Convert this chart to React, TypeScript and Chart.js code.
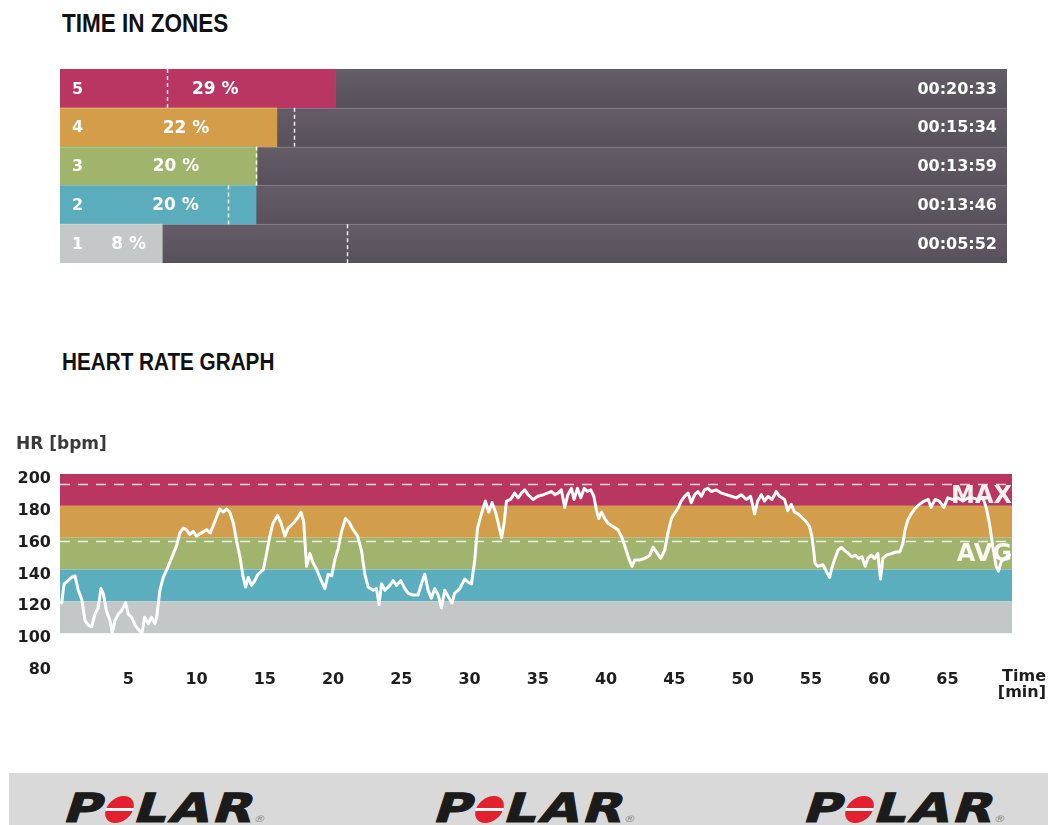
import React, { useEffect, useRef } from "react";
import { Chart, registerables } from "chart.js";

Chart.register(...registerables);

// ---------- Time in zones ----------
const zoneNumbers = ["5", "4", "3", "2", "1"];
const zonePercentLabels = ["29 %", "22 %", "20 %", "20 %", "8 %"];
const zoneTimes = ["00:20:33", "00:15:34", "00:13:59", "00:13:46", "00:05:52"];
const zoneBarShare = [29.1, 22.9, 20.8, 20.7, 10.8];
const zoneMarkerShare = [11.3, 24.7, 20.7, 17.7, 30.3];
const zoneColors = ["#b93562", "#d39d4a", "#a0b46c", "#5badbd", "#c4c8c9"];

// ---------- Heart rate graph ----------
const bandLow = [180, 160, 140, 120, 100];
const bandHigh = [200, 180, 160, 140, 120];
const maxHr = 194;
const avgHr = 158;
const totalMinutes = 69.73;
const hrTime = [
  0.12, 0.3, 0.6, 0.85, 1.1, 1.34, 1.6, 1.83, 2.07, 2.32, 2.56, 2.8, 3.0, 3.17, 3.4, 3.66, 3.83, 4.03, 4.27, 4.5,
  4.8, 5.0, 5.25, 5.5, 5.78, 6.0, 6.2, 6.47, 6.7, 6.95, 7.08, 7.32, 7.56, 7.93, 8.3, 8.54, 8.78, 9.03, 9.27, 9.5,
  9.76, 10.0, 10.37, 10.74, 11.0, 11.2, 11.47, 11.7, 11.95, 12.2, 12.44, 12.7, 12.93, 13.18, 13.42, 13.6, 13.78,
  14.03, 14.27, 14.5, 14.9, 15.13, 15.37, 15.6, 15.94, 16.2, 16.47, 16.7, 17.08, 17.45, 17.65, 17.85, 18.06, 18.3,
  18.55, 18.8, 19.03, 19.4, 19.64, 19.9, 20.13, 20.37, 20.6, 20.9, 21.15, 21.47, 21.8, 22.08, 22.33, 22.57, 22.94,
  23.18, 23.37, 23.55, 23.8, 24.16, 24.4, 24.65, 24.96, 25.26, 25.5, 25.86, 26.23, 26.47, 26.72, 26.96, 27.2, 27.45,
  27.7, 27.94, 28.18, 28.43, 28.72, 28.9, 29.28, 29.65, 29.9, 30.14, 30.38, 30.58, 30.87, 31.16, 31.4, 31.65, 31.9,
  32.1, 32.34, 32.53, 32.7, 33.0, 33.3, 33.55, 33.8, 34.04, 34.28, 34.65, 35.0, 35.4, 35.7, 36.0, 36.24, 36.48,
  36.72, 36.97, 37.2, 37.46, 37.65, 37.9, 38.14, 38.4, 38.63, 38.87, 39.1, 39.3, 39.46, 39.66, 39.9, 40.14, 40.5,
  40.87, 41.16, 41.4, 41.66, 41.9, 42.1, 42.46, 42.83, 43.2, 43.43, 43.68, 44.0, 44.29, 44.53, 44.78, 45.0, 45.3,
  45.5, 45.75, 46.0, 46.24, 46.49, 46.73, 46.98, 47.2, 47.46, 47.7, 48.07, 48.44, 48.8, 49.17, 49.54, 49.9, 50.27,
  50.58, 50.88, 51.1, 51.37, 51.6, 51.85, 52.15, 52.46, 52.7, 53.07, 53.3, 53.56, 53.8, 54.05, 54.3, 54.66, 54.9,
  55.07, 55.2, 55.3, 55.5, 55.88, 56.12, 56.37, 56.54, 56.73, 56.98, 57.22, 57.47, 57.76, 58.0, 58.25, 58.5, 58.73,
  58.98, 59.17, 59.42, 59.66, 59.9, 60.1, 60.27, 60.52, 60.9, 61.2, 61.5, 61.73, 61.9, 62.1, 62.35, 62.6, 62.96,
  63.3, 63.6, 63.8, 64.1, 64.4, 64.74, 65.03, 65.4, 65.76, 66.13, 66.5, 66.85, 67.22, 67.6, 67.84, 68.08, 68.33,
  68.57, 68.74, 68.94, 69.2, 69.55,
];
const hrBpm = [
  119, 131, 133, 135, 136, 127, 121, 108, 105, 104, 112, 116, 128, 125, 114, 108, 100, 108, 112, 114,
  119, 112, 110, 105, 102, 100, 110, 106, 110, 106, 110, 127, 135, 142, 150, 155, 163, 166, 165, 162,
  164, 161, 163, 165, 163, 167, 173, 178, 176, 178, 176, 169, 158, 148, 135, 129, 135,
  130, 133, 137, 140, 150, 161, 169, 174, 169, 161, 166, 169, 173, 176, 170, 142, 150,
  144, 140, 135, 128, 137, 136, 146, 153, 163, 172, 170, 165, 161, 152, 137, 129, 127,
  128, 118, 131, 127, 130, 133, 130, 133, 128, 125, 124, 124, 131, 137, 127, 122, 128,
  124, 116, 127, 123, 119, 125, 128, 134, 132, 131, 146, 166, 175, 183, 176, 182, 176,
  169, 160, 169, 183, 184, 188, 185, 188, 190, 187, 184, 186, 187, 188, 189, 187, 188,
  190, 179, 187, 191, 184, 191, 185, 191, 189, 190, 186, 177, 172, 176, 172, 169, 167,
  165, 160, 154, 147, 142, 146, 146, 147, 149, 154, 151, 147, 152, 163, 172, 175, 179,
  183, 186, 188, 182, 187, 189, 186, 190, 191, 189, 190, 188, 187, 186, 185, 187, 184,
  186, 175, 183, 187, 183, 186, 184, 189, 186, 184, 177, 181, 176, 175, 173, 170, 167,
  161, 152, 144, 142, 143, 139, 135, 141, 146, 152, 154, 152, 150, 148, 149, 147, 148,
  142, 147, 149, 147, 150, 134, 147, 149, 150, 151, 151, 156, 165, 171, 175, 178, 181,
  183, 184, 179, 184, 183, 179, 185, 184, 185, 183, 185, 185, 184, 185, 179, 169, 154,
  142, 139, 145, 147, 149,
];
const bandColors = ["#b8365f", "#d29e4b", "#a0b46d", "#5aaebd", "#c3c7c8"];

const FONT = "'DejaVu Sans', 'Liberation Sans', sans-serif";

function ZonesChart() {
  const ref = useRef<HTMLCanvasElement | null>(null);
  useEffect(() => {
    if (!ref.current) return;
    const labelsPlugin = {
      id: "zoneLabels",
      afterDatasetsDraw(chart: any) {
        const ctx = chart.ctx as CanvasRenderingContext2D;
        const xs = chart.scales.x;
        const ys = chart.scales.y;
        const area = chart.chartArea;
        const rowH = (area.bottom - area.top) / zoneNumbers.length;
        ctx.save();
        zoneNumbers.forEach((num, i) => {
          const cy = ys.getPixelForValue(i);
          const top = cy - rowH / 2;
          if (i > 0) {
            ctx.fillStyle = "rgba(255,255,255,0.18)";
            ctx.fillRect(area.left, Math.round(top), area.right - area.left, 1);
          }
          const mx = Math.round(xs.getPixelForValue(zoneMarkerShare[i])) + 0.5;
          ctx.strokeStyle = "rgba(255,255,255,0.9)";
          ctx.lineWidth = 1.5;
          ctx.setLineDash([4, 3]);
          ctx.beginPath();
          ctx.moveTo(mx, top);
          ctx.lineTo(mx, top + rowH);
          ctx.stroke();
          ctx.setLineDash([]);
          ctx.fillStyle = "#ffffff";
          ctx.textBaseline = "middle";
          ctx.font = `bold 16px ${FONT}`;
          ctx.textAlign = "left";
          ctx.fillText(num, area.left + 12, cy + 1);
          const end = xs.getPixelForValue(zoneBarShare[i]);
          ctx.font = `bold 17px ${FONT}`;
          ctx.textAlign = "center";
          ctx.fillText(zonePercentLabels[i], (area.left + 35 + end) / 2, cy + 1);
          ctx.font = `bold 16px ${FONT}`;
          ctx.textAlign = "right";
          ctx.fillText(zoneTimes[i], area.right - 10, cy + 1);
        });
        ctx.restore();
      },
    };
    const chart = new Chart(ref.current, {
      type: "bar",
      data: {
        labels: zoneNumbers,
        datasets: [
          {
            data: zoneBarShare,
            backgroundColor: zoneColors,
            borderWidth: 0,
            barPercentage: 1,
            categoryPercentage: 1,
          },
          {
            data: zoneBarShare.map((v) => 100 - v),
            backgroundColor: (c: any) => {
              const area = c.chart.chartArea;
              if (!area) return "#5d5661";
              const rowH = (area.bottom - area.top) / zoneNumbers.length;
              const top = area.top + rowH * c.dataIndex;
              const g = c.chart.ctx.createLinearGradient(0, top, 0, top + rowH);
              g.addColorStop(0, "#645d68");
              g.addColorStop(1, "#58515c");
              return g;
            },
            borderWidth: 0,
            barPercentage: 1,
            categoryPercentage: 1,
          },
        ],
      },
      options: {
        indexAxis: "y",
        animation: false,
        responsive: false,
        maintainAspectRatio: false,
        layout: { padding: 0 },
        plugins: { legend: { display: false }, tooltip: { enabled: false } },
        scales: {
          x: { display: false, stacked: true, min: 0, max: 100 },
          y: { display: false, stacked: true },
        },
      },
      plugins: [labelsPlugin],
    } as any);
    return () => chart.destroy();
  }, []);
  return (
    <canvas
      ref={ref}
      width={947}
      height={194}
      style={{ position: "absolute", left: 60, top: 69, width: 947, height: 194 }}
    />
  );
}

function HeartRateChart() {
  const ref = useRef<HTMLCanvasElement | null>(null);
  useEffect(() => {
    if (!ref.current) return;
    const bandsPlugin = {
      id: "hrBands",
      beforeDatasetsDraw(chart: any) {
        const ctx = chart.ctx as CanvasRenderingContext2D;
        const ys = chart.scales.y;
        const area = chart.chartArea;
        ctx.save();
        bandLow.forEach((lo, i) => {
          const yTop = ys.getPixelForValue(bandHigh[i]);
          const yBot = ys.getPixelForValue(lo);
          ctx.fillStyle = bandColors[i];
          ctx.fillRect(area.left, yTop, area.right - area.left, yBot - yTop);
        });
        ctx.strokeStyle = "rgba(255,255,255,0.8)";
        ctx.lineWidth = 1.5;
        ctx.setLineDash([10, 8]);
        [maxHr, avgHr].forEach((v) => {
          const y = Math.round(ys.getPixelForValue(v)) + 0.5;
          ctx.beginPath();
          ctx.moveTo(area.left, y);
          ctx.lineTo(area.right, y);
          ctx.stroke();
        });
        ctx.restore();
      },
      afterDatasetsDraw(chart: any) {
        const ctx = chart.ctx as CanvasRenderingContext2D;
        const ys = chart.scales.y;
        const area = chart.chartArea;
        ctx.save();
        ctx.fillStyle = "rgba(255,255,255,0.92)";
        ctx.font = `bold 24px ${FONT}`;
        ctx.textAlign = "right";
        ctx.textBaseline = "middle";
        ctx.fillText("MAX", area.right, ys.getPixelForValue(maxHr) + 13);
        ctx.fillText("AVG", area.right, ys.getPixelForValue(avgHr) + 14);
        ctx.fillStyle = "#3a3a3a";
        ctx.font = `bold 17px ${FONT}`;
        ctx.textAlign = "left";
        ctx.fillText("HR [bpm]", 16, 25);
        ctx.fillStyle = "#1e1e1e";
        ctx.font = `bold 16px ${FONT}`;
        ctx.textAlign = "right";
        ctx.fillText("Time", 1046, area.bottom + 12);
        ctx.fillText("[min]", 1046, area.bottom + 28);
        ctx.restore();
      },
    };
    const chart = new Chart(ref.current, {
      type: "line",
      data: {
        datasets: [
          {
            data: hrTime.map((t, i) => ({ x: t, y: hrBpm[i] })),
            borderColor: "#ffffff",
            borderWidth: 3,
            borderJoinStyle: "round",
            borderCapStyle: "round",
            pointRadius: 0,
            tension: 0,
            fill: false,
          },
        ],
      },
      options: {
        animation: false,
        responsive: false,
        maintainAspectRatio: false,
        layout: { padding: { top: 54, right: 36, left: 0, bottom: 0 } },
        plugins: { legend: { display: false }, tooltip: { enabled: false } },
        scales: {
          x: {
            type: "linear",
            min: 0,
            max: totalMinutes,
            grid: { display: false, drawTicks: false },
            border: { display: false },
            afterFit: (s: any) => {
              s.height = 55;
            },
            ticks: {
              stepSize: 5,
              includeBounds: false,
              autoSkip: false,
              maxRotation: 0,
              padding: 5,
              color: "#1e1e1e",
              font: { family: FONT, weight: "bold", size: 16 },
              callback: (v: any) => (v === 0 ? "" : String(v)),
            },
          },
          y: {
            min: 80,
            max: 200,
            grid: { display: false, drawTicks: false },
            border: { display: false },
            afterFit: (s: any) => {
              s.width = 60;
            },
            ticks: {
              stepSize: 20,
              padding: 9,
              labelOffset: 5,
              color: "#1e1e1e",
              font: { family: FONT, weight: "bold", size: 16 },
            },
          },
        },
      },
      plugins: [bandsPlugin],
    } as any);
    return () => chart.destroy();
  }, []);
  return (
    <canvas
      ref={ref}
      width={1048}
      height={300}
      style={{ position: "absolute", left: 0, top: 420, width: 1048, height: 300 }}
    />
  );
}

function PolarLogo({ left }: { left: number }) {
  const s = 1.3;
  return (
    <div
      style={{
        position: "absolute",
        left,
        top: 788,
        transform: `scaleX(${s}) skewX(-14deg)`,
        transformOrigin: "left bottom",
        whiteSpace: "nowrap",
        fontFamily: FONT,
        fontWeight: "bold",
        fontSize: 40,
        lineHeight: "40px",
        color: "#1b1b1b",
        letterSpacing: 2,
        WebkitTextStroke: "1px #1b1b1b",
      }}
    >
      P
      <span
        style={{
          display: "inline-block",
          width: 27 / s,
          height: 27,
          borderRadius: "50%",
          verticalAlign: "-1px",
          background:
            "linear-gradient(to bottom, #e2202e 0%, #e2202e 44%, #ffffff 44%, #ffffff 54%, #e2202e 54%, #e2202e 100%)",
          marginRight: 2,
        }}
      />
      LAR
      <span
        style={{
          fontSize: 9,
          color: "#888",
          fontWeight: "normal",
          WebkitTextStroke: "0px",
          letterSpacing: 0,
        }}
      >
        ®
      </span>
    </div>
  );
}

export default function App() {
  const titleStyle: React.CSSProperties = {
    position: "absolute",
    left: 62,
    margin: 0,
    fontFamily: "'Liberation Sans', Arial, sans-serif",
    fontWeight: "bold",
    color: "#111",
    transform: "scaleX(0.9)",
    transformOrigin: "left top",
    whiteSpace: "nowrap",
  };
  return (
    <div
      style={{
        position: "absolute",
        left: 0,
        top: 0,
        width: 1048,
        height: 825,
        overflow: "hidden",
        background: "#ffffff",
      }}
    >
      <div style={{ ...titleStyle, top: 11, fontSize: 25, lineHeight: "25px" }}>TIME IN ZONES</div>
      <ZonesChart />
      <div style={{ ...titleStyle, top: 351, fontSize: 23, lineHeight: "23px" }}>HEART RATE GRAPH</div>
      <HeartRateChart />
      <div
        style={{
          position: "absolute",
          left: 9,
          top: 773,
          width: 1039,
          height: 52,
          background: "#d9d9d9",
        }}
      />
      <PolarLogo left={56} />
      <PolarLogo left={426} />
      <PolarLogo left={796} />
    </div>
  );
}
